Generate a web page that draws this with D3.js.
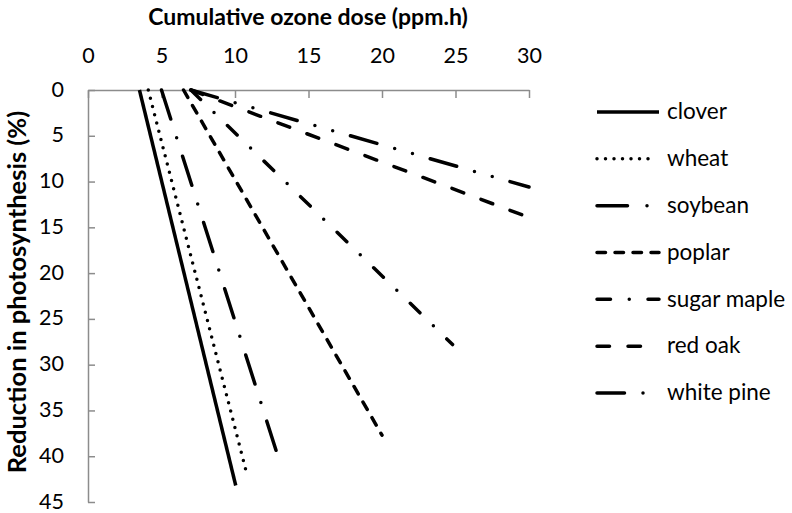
<!DOCTYPE html>
<html>
<head>
<meta charset="utf-8">
<script src="https://cdn.jsdelivr.net/npm/d3@7"></script>
<style>
  body { margin: 0; background: #fff; }
  text { font-family: Lato, "Open Sans", sans-serif; fill: #000; }
</style>
</head>
<body>
<div id="chart"></div>
<script>
// species and their start / end points (dose in ppm.h, reduction in %)
let species = ["clover", "wheat", "soybean", "poplar", "sugar maple", "red oak", "white pine"];
let start_dose = [3.5, 4.1, 5.0, 6.5, 7.0, 7.0, 7.0];
let start_red = [0, 0, 0, 0, 0, 0, 0];
let end_dose = [10.05, 10.75, 12.9, 20.0, 24.8, 29.8, 30.0];
let end_red = [43.2, 41.6, 39.9, 37.7, 27.8, 13.8, 10.6];
let dashes = ["none", "0,8.5", "30.5,19.5,0,19.5", "8.5,9.5", "13.5,18.75,0,18.75", "12.5,18.5", "27.5,18.5,0,18.5,0,18.5"];

let x_ticks = [0, 5, 10, 15, 20, 25, 30];
let y_ticks = [0, 5, 10, 15, 20, 25, 30, 35, 40, 45];

let width = 792;
let height = 513;

let svg = d3
  .select("#chart")
  .append("svg")
  .attr("width", width)
  .attr("height", height);

// scales
let x_scale = d3.scaleLinear().domain([0, 30]).range([88, 529]);
let y_scale = d3.scaleLinear().domain([0, 45]).range([90, 502]); // reversed: 0 at top

let axis_color = "#8c8c8c";

// top x axis, ticks hang down into the plot
let x_axis = svg
  .append("g")
  .attr("transform", "translate(0," + y_scale(0) + ")")
  .call(d3.axisTop(x_scale).tickValues(x_ticks).tickSizeInner(-8).tickSizeOuter(0).tickFormat(d3.format("d")));
x_axis.select(".domain").attr("stroke", axis_color).attr("stroke-width", 1.5);
x_axis.selectAll(".tick line").attr("stroke", axis_color).attr("stroke-width", 1.5);
x_axis
  .selectAll(".tick text")
  .attr("y", -27)
  .attr("dy", 0)
  .style("font-size", "21.5px");

// left y axis, ticks point right into the plot
let y_axis = svg
  .append("g")
  .attr("transform", "translate(" + x_scale(0) + ",0)")
  .call(d3.axisLeft(y_scale).tickValues(y_ticks).tickSizeInner(-7).tickSizeOuter(0).tickFormat(d3.format("d")));
y_axis.select(".domain").attr("stroke", axis_color).attr("stroke-width", 1.5);
y_axis.selectAll(".tick line").attr("stroke", axis_color).attr("stroke-width", 1.5);
y_axis
  .selectAll(".tick text")
  .attr("x", -24)
  .attr("dy", "0.28em")
  .style("font-size", "21.5px");

// axis titles
svg
  .append("text")
  .attr("x", 308)
  .attr("y", 25)
  .attr("text-anchor", "middle")
  .style("font-size", "23px")
  .style("font-weight", "bold")
  .text("Cumulative ozone dose (ppm.h)");

svg
  .append("text")
  .attr("transform", "translate(26," + 292 + ") rotate(-90)")
  .attr("text-anchor", "middle")
  .style("font-size", "25.5px")
  .style("font-weight", "bold")
  .text("Reduction in photosynthesis (%)");

// series lines
let line = d3
  .line()
  .x(function (d) { return x_scale(d[0]); })
  .y(function (d) { return y_scale(d[1]); });

species.forEach(function (name, i) {
  svg
    .append("path")
    .datum([[start_dose[i], start_red[i]], [end_dose[i], end_red[i]]])
    .attr("d", line)
    .attr("fill", "none")
    .attr("stroke", "#000")
    .attr("stroke-width", 3.5)
    .attr("stroke-linecap", dashes[i] == "none" ? "butt" : "round")
    .attr("stroke-dasharray", dashes[i]);
});

// legend
let legend_y = d3.scaleLinear().domain([0, species.length - 1]).range([112, 393]);

let legend = svg
  .selectAll(".legend")
  .data(species)
  .enter()
  .append("g")
  .attr("class", "legend")
  .attr("transform", function (d, i) { return "translate(0," + legend_y(i) + ")"; });

legend
  .append("line")
  .attr("x1", 597)
  .attr("x2", function (d, i) { return i == 1 ? 651 : 659; })
  .attr("stroke", "#000")
  .attr("stroke-width", 3.5)
  .attr("stroke-linecap", function (d, i) { return dashes[i] == "none" ? "butt" : "round"; })
  .attr("stroke-dasharray", function (d, i) { return dashes[i]; });

legend
  .append("text")
  .attr("x", 667)
  .attr("dy", "0.32em")
  .style("font-size", "22.5px")
  .text(function (d) { return d; });
</script>
</body>
</html>
